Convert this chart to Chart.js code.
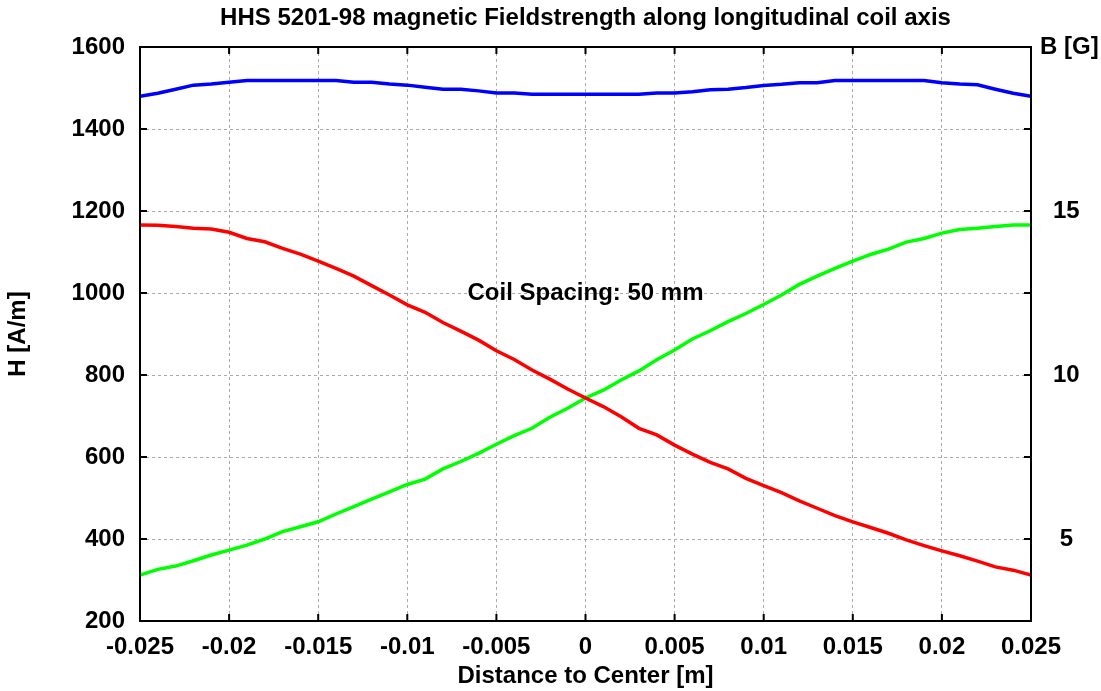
<!DOCTYPE html>
<html>
<head>
<meta charset="utf-8">
<script src="https://cdn.jsdelivr.net/npm/chart.js@4.4.1/dist/chart.umd.min.js"></script>
<style>
  html, body { margin: 0; padding: 0; background: #fff; }
  #wrap { width: 1101px; height: 691px; }
</style>
</head>
<body>
<div id="wrap"><canvas id="chart" width="1101" height="691"></canvas></div>
<script>
// distance to center [m]
const distance = [
  -0.025, -0.024, -0.023, -0.022, -0.021, -0.020, -0.019, -0.018, -0.017, -0.016,
  -0.015, -0.014, -0.013, -0.012, -0.011, -0.010, -0.009, -0.008, -0.007, -0.006,
  -0.005, -0.004, -0.003, -0.002, -0.001, 0.000, 0.001, 0.002, 0.003, 0.004,
  0.005, 0.006, 0.007, 0.008, 0.009, 0.010, 0.011, 0.012, 0.013, 0.014,
  0.015, 0.016, 0.017, 0.018, 0.019, 0.020, 0.021, 0.022, 0.023, 0.024, 0.025
];

// H [A/m] of each coil alone and both together
const hCoilLeft = [
  1166, 1165, 1162, 1158, 1156, 1148, 1133, 1125, 1109, 1095,
  1078, 1060, 1041, 1018, 995, 971, 953, 928, 907, 885,
  859, 838, 812, 790, 766, 744, 723, 698, 670, 654,
  629, 607, 587, 571, 548, 530, 513, 493, 475, 457,
  442, 428, 414, 398, 384, 371, 359, 346, 332, 324, 312
];
const hCoilRight = [
  312, 326, 334, 347, 361, 373, 385, 400, 418, 430,
  442, 461, 479, 497, 515, 533, 546, 571, 589, 609,
  631, 652, 670, 697, 719, 744, 763, 788, 810, 837,
  861, 888, 908, 930, 950, 972, 995, 1021, 1041, 1060,
  1078, 1094, 1107, 1124, 1133, 1146, 1155, 1158, 1162, 1166, 1166
];
const hTotal = [
  1480, 1487, 1497, 1507, 1510, 1514, 1518, 1518, 1518, 1518,
  1518, 1518, 1514, 1514, 1510, 1507, 1502, 1497, 1497, 1493,
  1488, 1488, 1485, 1485, 1485, 1485, 1485, 1485, 1485, 1488,
  1488, 1491, 1496, 1497, 1501, 1506, 1509, 1513, 1513, 1518,
  1518, 1518, 1518, 1518, 1518, 1513, 1510, 1508, 1497, 1487, 1480
];

// right axis: B [G]
const bTicks = [5, 10, 15];

const TITLE = 'HHS 5201-98 magnetic Fieldstrength along longitudinal coil axis';
const FONT = 'Liberation Sans, Arial, Helvetica, sans-serif';
Chart.defaults.font.family = FONT;
Chart.defaults.font.weight = 'bold';
Chart.defaults.font.size = 24;
Chart.defaults.color = '#000';

const toPoints = ys => ys.map((y, i) => ({x: distance[i], y: y}));

const gridStyle = {
  color: '#aaaaaa',
  lineWidth: 1,
  drawTicks: false,
  tickLength: 0
};

// frame, inward tick marks and free text labels
const frame = {
  id: 'frame',
  afterDraw(chart) {
    const {ctx, chartArea: a, scales} = chart;
    ctx.save();
    ctx.strokeStyle = '#000';
    ctx.lineWidth = 2;
    ctx.strokeRect(a.left, a.top, a.right - a.left, a.bottom - a.top);

    const len = 7;
    ctx.beginPath();
    scales.x.ticks.forEach(t => {
      const px = scales.x.getPixelForValue(t.value);
      ctx.moveTo(px, a.bottom); ctx.lineTo(px, a.bottom - len);
      ctx.moveTo(px, a.top); ctx.lineTo(px, a.top + len);
    });
    scales.y.ticks.forEach(t => {
      const py = scales.y.getPixelForValue(t.value);
      ctx.moveTo(a.left, py); ctx.lineTo(a.left + len, py);
      ctx.moveTo(a.right, py); ctx.lineTo(a.right - len, py);
    });
    ctx.stroke();

    ctx.fillStyle = '#000';
    ctx.font = 'bold 24px ' + FONT;
    ctx.textBaseline = 'middle';
    ctx.textAlign = 'center';
    ctx.fillText(TITLE, (a.left + a.right) / 2, 18);

    ctx.textAlign = 'left';
    ctx.fillText('B [G]', a.right + 9, a.top);

    ctx.textAlign = 'center';
    ctx.fillText('Coil Spacing: 50 mm',
      scales.x.getPixelForValue(0), scales.y.getPixelForValue(1000));
    ctx.restore();
  }
};

new Chart(document.getElementById('chart'), {
  type: 'line',
  data: {
    datasets: [
      {
        label: 'Coil 1',
        data: toPoints(hCoilLeft),
        borderColor: '#ff0000',
        borderWidth: 3.5,
        pointRadius: 0,
        tension: 0,
        yAxisID: 'y'
      },
      {
        label: 'Coil 2',
        data: toPoints(hCoilRight),
        borderColor: '#00ff00',
        borderWidth: 3.5,
        pointRadius: 0,
        tension: 0,
        yAxisID: 'y'
      },
      {
        label: 'Total',
        data: toPoints(hTotal),
        borderColor: '#0000ff',
        borderWidth: 3.5,
        pointRadius: 0,
        tension: 0,
        yAxisID: 'y'
      }
    ]
  },
  options: {
    responsive: false,
    animation: false,
    layout: { padding: { top: 47 } },
    plugins: {
      legend: { display: false },
      tooltip: { enabled: false }
    },
    scales: {
      x: {
        type: 'linear',
        min: -0.025,
        max: 0.025,
        ticks: {
          stepSize: 0.005,
          padding: 12,
          maxRotation: 0,
          callback: v => String(+v.toFixed(3))
        },
        grid: gridStyle,
        border: { display: false, dash: [3, 3] },
        title: {
          display: true,
          text: 'Distance to Center [m]',
          padding: { top: 0, bottom: 0 }
        },
        afterFit: s => { s.height = 70; }
      },
      y: {
        position: 'left',
        min: 200,
        max: 1600,
        ticks: { stepSize: 200, padding: 15, callback: v => String(v) },
        grid: gridStyle,
        border: { display: false, dash: [3, 3] },
        title: {
          display: true,
          text: 'H [A/m]',
          padding: { top: 4, bottom: 0 }
        },
        afterFit: s => { s.width = 140; }
      },
      y2: {
        position: 'right',
        min: 2.5,
        max: 20,
        afterBuildTicks: s => { s.ticks = bTicks.map(v => ({value: v})); },
        ticks: { padding: 22, crossAlign: 'center' },
        grid: { display: false, drawTicks: false, tickLength: 0 },
        border: { display: false },
        afterFit: s => { s.width = 70; }
      }
    }
  },
  plugins: [frame]
});
</script>
</body>
</html>
